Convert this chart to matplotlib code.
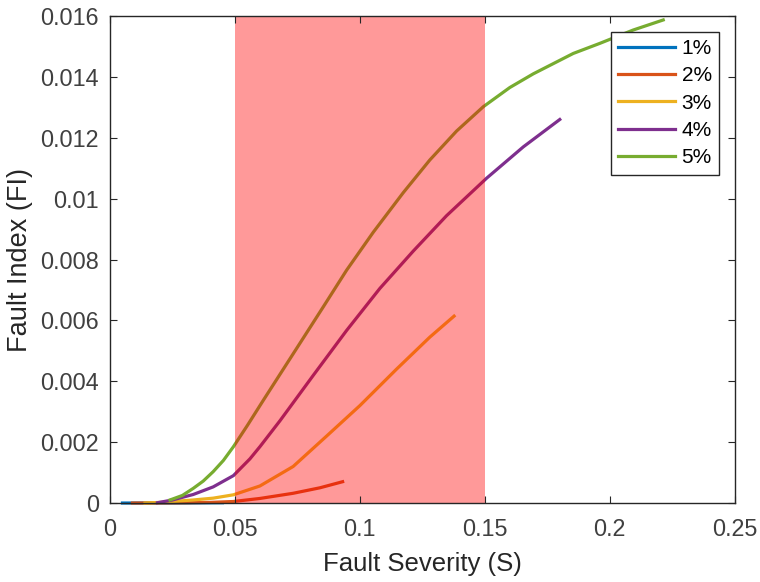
import numpy as np
import matplotlib.pyplot as plt

plt.rcParams['font.family'] = ['Liberation Sans', 'DejaVu Sans']

# fault index vs. fault severity for each load level
labels = ['1%', '2%', '3%', '4%', '5%']
colors = ['#0072BD', '#D95319', '#EDB120', '#7E2F8E', '#77AC30']

s1 = [0.005, 0.015, 0.025, 0.035, 0.045]
fi1 = [0.0, 0.0, 0.0, 0.000005, 0.00001]

s2 = [0.009, 0.020, 0.030, 0.040, 0.0494, 0.060, 0.0733, 0.084, 0.0931]
fi2 = [0.0, 0.000003, 0.000008, 0.00002, 0.00005, 0.00015, 0.00032, 0.0005,
       0.0007]

s3 = [0.014, 0.020, 0.0333, 0.0413, 0.0494, 0.060, 0.0733, 0.0867, 0.100,
      0.1147, 0.128, 0.1377]
fi3 = [0.0, 0.00002, 0.0001, 0.00016, 0.00027, 0.00056, 0.0012, 0.0022,
       0.0032, 0.0044, 0.00545, 0.00614]

s4 = [0.019, 0.025, 0.0333, 0.0413, 0.0494, 0.056, 0.060, 0.068, 0.0814,
      0.0947, 0.108, 0.1214, 0.1347, 0.1507, 0.1654, 0.180]
fi4 = [0.00001, 0.0001, 0.00028, 0.00053, 0.0009, 0.00145, 0.00185, 0.0027,
       0.0042, 0.00567, 0.00705, 0.00828, 0.00944, 0.01067, 0.0117, 0.0126]

s5 = [0.024, 0.029, 0.0333, 0.0373, 0.0413, 0.0454, 0.0494, 0.055, 0.0614,
      0.0747, 0.0854, 0.0947, 0.1054, 0.1174, 0.128, 0.1387, 0.1494, 0.160,
      0.1694, 0.1854, 0.196, 0.2094, 0.2214]
fi5 = [0.0001, 0.00025, 0.00048, 0.00072, 0.00103, 0.0014, 0.00185, 0.00255,
       0.00338, 0.00508, 0.00645, 0.00765, 0.0089, 0.0102, 0.01127, 0.01222,
       0.01302, 0.01365, 0.0141, 0.01477, 0.0151, 0.01554, 0.01587]

band = (0.05, 0.15)

fig = plt.figure(figsize=(7.6, 5.82), dpi=100)
ax = fig.add_axes([0.1447, 0.1357, 0.8220, 0.8368])
ax.set_axisbelow(False)

for s, fi, lab, c in zip([s1, s2, s3, s4, s5], [fi1, fi2, fi3, fi4, fi5],
                         labels, colors):
    ax.plot(s, fi, color=c, lw=2.3, label=lab, solid_joinstyle='round',
            clip_on=False, zorder=2)

# translucent band drawn over the curves
ax.axvspan(band[0], band[1], color='red', alpha=0.4, lw=0, zorder=2.2)

ax.set_xlim(0, 0.25)
ax.set_ylim(0, 0.016)
ax.set_xticks(np.arange(0, 0.251, 0.05))
ax.set_xticklabels(['0', '0.05', '0.1', '0.15', '0.2', '0.25'])
ax.set_yticks(np.arange(0, 0.0161, 0.002))
ax.set_yticklabels(['0', '0.002', '0.004', '0.006', '0.008', '0.01',
                    '0.012', '0.014', '0.016'])

dark = '#262626'
for sp in ax.spines.values():
    sp.set_color(dark)
    sp.set_linewidth(1.0)
ax.tick_params(direction='in', length=5, width=0.8, colors=dark,
               labelsize=16.8, top=True, right=True, pad=8)
ax.tick_params(axis='x', pad=10.5)
for t in ax.get_xticklabels() + ax.get_yticklabels():
    t.set_color('#404040')

ax.set_xlabel('Fault Severity (S)', fontsize=18.5, color=dark, labelpad=8)
ax.set_ylabel('Fault Index (FI)', fontsize=19.5, color=dark, labelpad=5)

leg = ax.legend(loc='upper right', bbox_to_anchor=(0.975, 0.968),
                borderaxespad=0, fontsize=15, fancybox=False, framealpha=1,
                edgecolor=dark, handlelength=2.75, handletextpad=0.3,
                labelspacing=0.4, borderpad=0.35)
leg.get_frame().set_linewidth(1.0)
leg.set_zorder(5)

fig.savefig('out.png', dpi=100)
